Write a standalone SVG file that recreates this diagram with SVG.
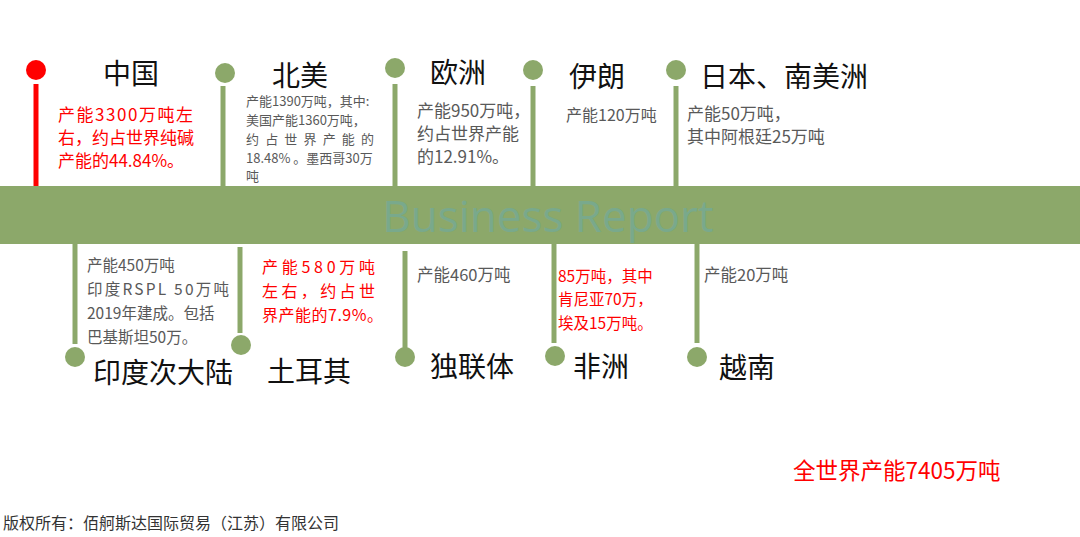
<svg xmlns="http://www.w3.org/2000/svg" width="1080" height="537" viewBox="0 0 1080 537">
<style>
text{font-family:"Microsoft YaHei","Noto Sans CJK SC","Noto Sans",sans-serif}
.t{font-size:28px;fill:#111}
.b{fill:#595959}
.r{fill:#ff0000}
.st{stroke:#8ca86a;stroke-width:5}
.dot{fill:#8ca86a}
</style>
<rect x="0" y="186" width="1080" height="58" fill="#8ca86a"/>
<text x="548" y="232" text-anchor="middle" style="font-size:44px;fill:#79a98c;font-family:'Open Sans','Noto Sans',sans-serif">Business Report</text>
<g id="connectors">
<line x1="36" y1="84" x2="36" y2="186" stroke="#ff0000" stroke-width="5"/>
<line class="st" x1="223" y1="86" x2="223" y2="186"/>
<line class="st" x1="395" y1="84" x2="395" y2="186"/>
<line class="st" x1="533" y1="86" x2="533" y2="186"/>
<line class="st" x1="676" y1="86" x2="676" y2="186"/>
<line class="st" x1="75" y1="244" x2="75" y2="344"/>
<line class="st" x1="240" y1="247" x2="240" y2="333"/>
<line class="st" x1="405" y1="251" x2="405" y2="350"/>
<line class="st" x1="554" y1="244" x2="554" y2="343"/>
<line class="st" x1="697" y1="244" x2="697" y2="343"/>
</g>
<g id="china" font-size="17">
<circle cx="36" cy="70" r="10" fill="#ff0000"/>
<text class="t" x="103" y="84">中国</text>
<text class="r" x="58" y="121" textLength="135" lengthAdjust="spacing">产能3300万吨左</text>
<text class="r" x="58" y="144">右，约占世界纯碱</text>
<text class="r" x="58" y="167">产能的44.84%。</text>
</g>
<g id="north-america" font-size="13">
<circle class="dot" cx="225" cy="73" r="10"/>
<text class="t" x="272" y="86">北美</text>
<text class="b" x="246" y="106">产能1390万吨，其中:</text>
<text class="b" x="246" y="125">美国产能1360万吨，</text>
<text class="b" x="246" y="144" textLength="128" lengthAdjust="spacing">约占世界产能的</text>
<text class="b" x="246" y="163">18.48% 。墨西哥30万</text>
<text class="b" x="246" y="181">吨</text>
</g>
<g id="europe" font-size="17">
<circle class="dot" cx="395" cy="68" r="10"/>
<text class="t" x="430" y="83">欧洲</text>
<text class="b" x="417" y="117">产能950万吨，</text>
<text class="b" x="417" y="140">约占世界产能</text>
<text class="b" x="417" y="163">的12.91%。</text>
</g>
<g id="iran" font-size="16">
<circle class="dot" cx="533" cy="70" r="10"/>
<text class="t" x="569" y="87">伊朗</text>
<text class="b" x="566" y="121">产能120万吨</text>
</g>
<g id="japan-sa" font-size="17">
<circle class="dot" cx="676" cy="70" r="10"/>
<text class="t" x="700" y="87">日本、南美洲</text>
<text class="b" x="687" y="120">产能50万吨，</text>
<text class="b" x="687" y="143">其中阿根廷25万吨</text>
</g>
<g id="india" font-size="15.5">
<circle class="dot" cx="75" cy="357" r="10"/>
<text class="t" x="93" y="383">印度次大陆</text>
<text class="b" x="87" y="271">产能450万吨</text>
<text class="b" x="87" y="295" textLength="142" lengthAdjust="spacing">印度RSPL 50万吨</text>
<text class="b" x="87" y="319">2019年建成。包括</text>
<text class="b" x="87" y="343">巴基斯坦50万。</text>
</g>
<g id="turkey" font-size="16">
<circle class="dot" cx="241" cy="345" r="10"/>
<text class="t" x="267" y="382">土耳其</text>
<text class="r" x="262" y="273" textLength="113" lengthAdjust="spacing">产能580万吨</text>
<text class="r" x="262" y="297" textLength="113" lengthAdjust="spacing">左右，约占世</text>
<text class="r" x="262" y="321" letter-spacing="0.5">界产能的7.9%。</text>
</g>
<g id="cis" font-size="16.5">
<circle class="dot" cx="405" cy="357" r="10"/>
<text class="t" x="430" y="377">独联体</text>
<text class="b" x="417" y="281">产能460万吨</text>
</g>
<g id="africa" font-size="15.5">
<circle class="dot" cx="555" cy="356" r="10"/>
<text class="t" x="573" y="377">非洲</text>
<text class="r" x="558" y="282">85万吨，其中</text>
<text class="r" x="558" y="305">肯尼亚70万，</text>
<text class="r" x="558" y="329">埃及15万吨。</text>
</g>
<g id="vietnam" font-size="16.5">
<circle class="dot" cx="697" cy="357" r="10"/>
<text class="t" x="719" y="378">越南</text>
<text class="b" x="704" y="281">产能20万吨</text>
</g>
<text x="793" y="479" style="font-size:22.5px;fill:#ff0000">全世界产能7405万吨</text>
<text x="3" y="529" style="font-size:16px;fill:#333">版权所有：佰舸斯达国际贸易（江苏）有限公司</text>
</svg>
